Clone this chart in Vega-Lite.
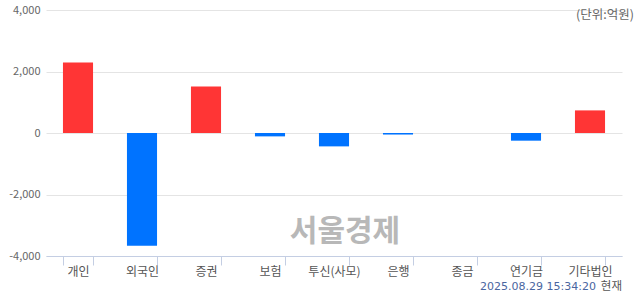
{
  "$schema": "https://vega.github.io/schema/vega-lite/v6.json",
  "width": 576,
  "height": 246,
  "autosize": "none",
  "padding": {"left": 46, "top": 10, "right": 18, "bottom": 38},
  "background": "white",
  "config": {
    "view": {"stroke": null},
    "font": "Noto Sans CJK KR"
  },
  "data": {
    "values": [
      {"investor": "개인", "amount": 2290},
      {"investor": "외국인", "amount": -3670},
      {"investor": "증권", "amount": 1510},
      {"investor": "보험", "amount": -110},
      {"investor": "투신(사모)", "amount": -435},
      {"investor": "은행", "amount": -50},
      {"investor": "종금", "amount": 0},
      {"investor": "연기금", "amount": -250},
      {"investor": "기타법인", "amount": 735}
    ]
  },
  "layer": [
    {
      "mark": {"type": "bar"},
      "encoding": {
        "x": {
          "field": "investor",
          "type": "nominal",
          "sort": null,
          "scale": {"paddingInner": 0.53, "paddingOuter": 0.265},
          "axis": {
            "title": null,
            "labelAngle": 0,
            "labelFontSize": 12,
            "labelColor": "#555555",
            "labelPadding": 1,
            "domainColor": "#c4cee3",
            "tickColor": "#c4cee3",
            "tickSize": 9,
            "tickBand": "extent",
            "grid": false
          }
        },
        "y": {
          "field": "amount",
          "type": "quantitative",
          "scale": {"domain": [-4000, 4000], "nice": false},
          "axis": {
            "title": null,
            "values": [-4000, -2000, 0, 2000, 4000],
            "labelExpr": "replace(format(datum.value, ',d'), '\u2212', '-')",
            "domain": false,
            "ticks": false,
            "labelPadding": 6,
            "labelFontSize": 11,
            "labelColor": "#666666",
            "gridColor": "#e4e4e4"
          }
        },
        "color": {
          "condition": {"test": "datum.amount > 0", "value": "#ff3535"},
          "value": "#0073ff"
        }
      }
    },
    {
      "data": {"values": [{"text": "서울경제"}]},
      "mark": {"type": "text", "fontSize": 30, "fontWeight": "bold", "color": "#b8b8b8", "align": "center", "baseline": "middle", "dx": 11, "dy": 1},
      "encoding": {
        "x": {"datum": "투신(사모)", "type": "nominal"},
        "y": {"datum": -3200, "type": "quantitative"},
        "text": {"field": "text"}
      }
    },
    {
      "data": {"values": [{"text": "(단위:억원)"}]},
      "mark": {"type": "text", "fontSize": 12.5, "color": "#666666", "align": "right", "baseline": "middle", "dx": 44, "dy": 5},
      "encoding": {
        "x": {"datum": "기타법인", "type": "nominal"},
        "y": {"datum": 4000, "type": "quantitative"},
        "text": {"field": "text"}
      }
    },
    {
      "data": {"values": [{"text": "2025.08.29 15:34:20"}]},
      "mark": {"type": "text", "font": "DejaVu Sans", "fontSize": 11, "color": "#4a66a0", "align": "right", "baseline": "middle", "dx": 6, "dy": 31},
      "encoding": {
        "x": {"datum": "기타법인", "type": "nominal"},
        "y": {"datum": -4000, "type": "quantitative"},
        "text": {"field": "text"}
      }
    },
    {
      "data": {"values": [{"text": "현재"}]},
      "mark": {"type": "text", "fontSize": 11.5, "color": "#555555", "align": "right", "baseline": "middle", "dx": 32, "dy": 31},
      "encoding": {
        "x": {"datum": "기타법인", "type": "nominal"},
        "y": {"datum": -4000, "type": "quantitative"},
        "text": {"field": "text"}
      }
    }
  ]
}
